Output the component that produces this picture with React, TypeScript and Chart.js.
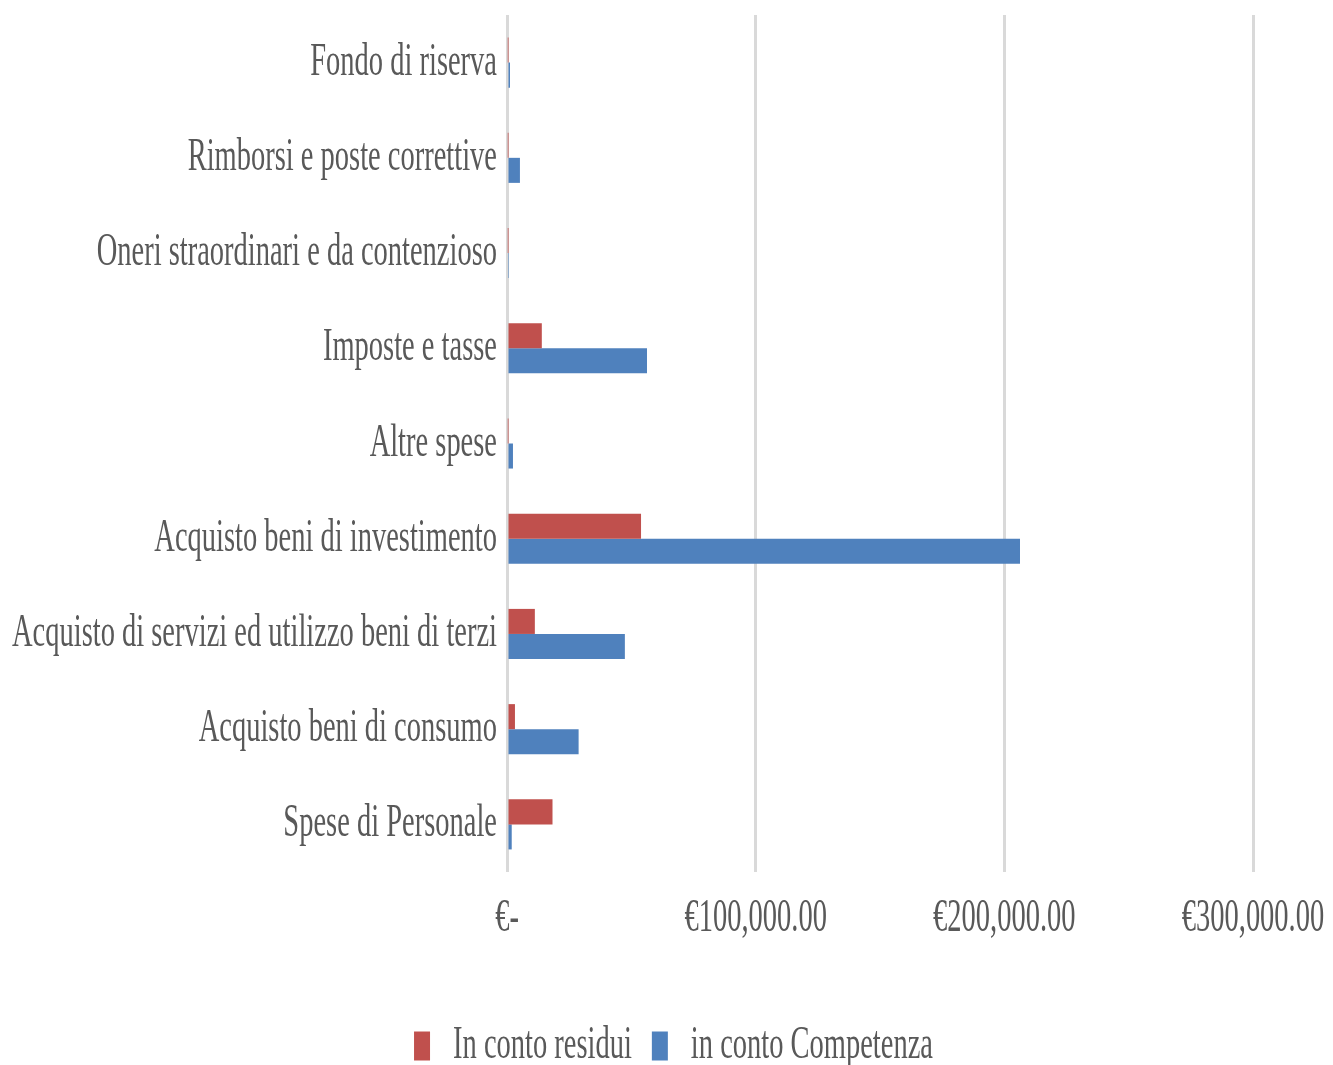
import React, { useEffect, useRef } from "react";
import { Chart, registerables } from "chart.js";

Chart.register(...registerables);

const categories = [
  "Fondo di riserva",
  "Rimborsi e poste correttive",
  "Oneri straordinari e da contenzioso",
  "Imposte e tasse",
  "Altre spese",
  "Acquisto beni di investimento",
  "Acquisto di servizi ed utilizzo beni di terzi",
  "Acquisto beni di consumo",
  "Spese di Personale",
];

const seriesNames = ["In conto residui", "in conto Competenza"];
const residui = [300, 300, 300, 14000, 300, 53900, 11200, 3200, 18300];
const competenza = [1200, 5200, 400, 56300, 2400, 206300, 47400, 28800, 1900];

const xMin = 0;
const xMax = 300000;
const xStep = 100000;

const FONT = "'Liberation Serif', 'DejaVu Serif', serif";
const FONT_SIZE = 46;
const TEXT = "#595959";

function euro(v: number): string {
  if (v === 0) return "€-";
  return "€" + v.toLocaleString("en-US", { minimumFractionDigits: 2, maximumFractionDigits: 2 });
}

// Make the canvas text horizontally condensed (the reference uses a condensed serif face)
function condenseContext(ctx: CanvasRenderingContext2D, longest: string, targetWidth: number) {
  const origFill = ctx.fillText.bind(ctx);
  const origMeasure = ctx.measureText.bind(ctx);
  ctx.save();
  ctx.font = `${FONT_SIZE}px ${FONT}`;
  const w = origMeasure(longest).width;
  ctx.restore();
  const sx = w > 0 ? targetWidth / w : 1;
  (ctx as any).fillText = (t: string, x: number, y: number) => {
    ctx.save();
    ctx.translate(x, y);
    ctx.scale(sx, 1);
    origFill(t, 0, 0);
    ctx.restore();
  };
  (ctx as any).measureText = (t: string) => {
    const m = origMeasure(t);
    return {
      width: m.width * sx,
      actualBoundingBoxAscent: m.actualBoundingBoxAscent,
      actualBoundingBoxDescent: m.actualBoundingBoxDescent,
      actualBoundingBoxLeft: m.actualBoundingBoxLeft * sx,
      actualBoundingBoxRight: m.actualBoundingBoxRight * sx,
      fontBoundingBoxAscent: m.fontBoundingBoxAscent,
      fontBoundingBoxDescent: m.fontBoundingBoxDescent,
    };
  };
}

// The reference legend is centred on the whole picture width, not the padded area
const legendShift = {
  id: "legendShift",
  afterLayout(chart: any) {
    if (chart.legend) {
      chart.legend.left += 94;
    }
  },
};

export default function App() {
  const ref = useRef<HTMLCanvasElement | null>(null);

  useEffect(() => {
    document.body.style.margin = "0";
    if (!ref.current) return;
    const ctx = ref.current.getContext("2d") as CanvasRenderingContext2D;
    condenseContext(ctx, categories[6], 485);
    const font = { family: FONT, size: FONT_SIZE };
    const chart = new Chart(ctx, {
      type: "bar",
      data: {
        labels: categories,
        datasets: [
          {
            label: seriesNames[0],
            data: residui,
            backgroundColor: "#C0504D",
            borderWidth: 0,
          },
          {
            label: seriesNames[1],
            data: competenza,
            backgroundColor: "#4F81BD",
            borderWidth: 0,
          },
        ],
      },
      options: {
        indexAxis: "y",
        animation: false,
        responsive: false,
        maintainAspectRatio: false,
        layout: { padding: { top: 15, right: 80, left: 0, bottom: -14 } },
        datasets: {
          bar: { categoryPercentage: 0.526, barPercentage: 1 },
        },
        scales: {
          x: {
            min: xMin,
            max: xMax,
            ticks: {
              stepSize: xStep,
              color: TEXT,
              font,
              padding: 19,
              callback: (v: any) => euro(Number(v)),
              maxRotation: 0,
            },
            grid: { color: "#D9D9D9", lineWidth: 3, drawTicks: false },
            border: { display: false },
            afterFit: (s: any) => {
              s.height = 131;
              s.paddingLeft = 0;
              s.paddingRight = 0;
            },
          },
          y: {
            ticks: {
              color: TEXT,
              font,
              padding: 10,
            },
            grid: { display: false, drawTicks: false },
            border: { display: false },
            afterFit: (s: any) => {
              s.width = 507;
              s.paddingTop = 0;
              s.paddingBottom = 0;
            },
          },
        },
        plugins: {
          legend: {
            position: "bottom",
            labels: {
              color: TEXT,
              font,
              boxWidth: 16,
              boxHeight: 29,
              padding: 20,
            },
          },
          tooltip: { enabled: false },
        },
      },
      plugins: [legendShift],
    });
    return () => chart.destroy();
  }, []);

  return (
    <div style={{ position: "absolute", left: 0, top: 0, width: 1333, height: 1065, background: "#fff", overflow: "hidden" }}>
      <canvas ref={ref} width={1333} height={1065} style={{ width: 1333, height: 1065 }} />
    </div>
  );
}
